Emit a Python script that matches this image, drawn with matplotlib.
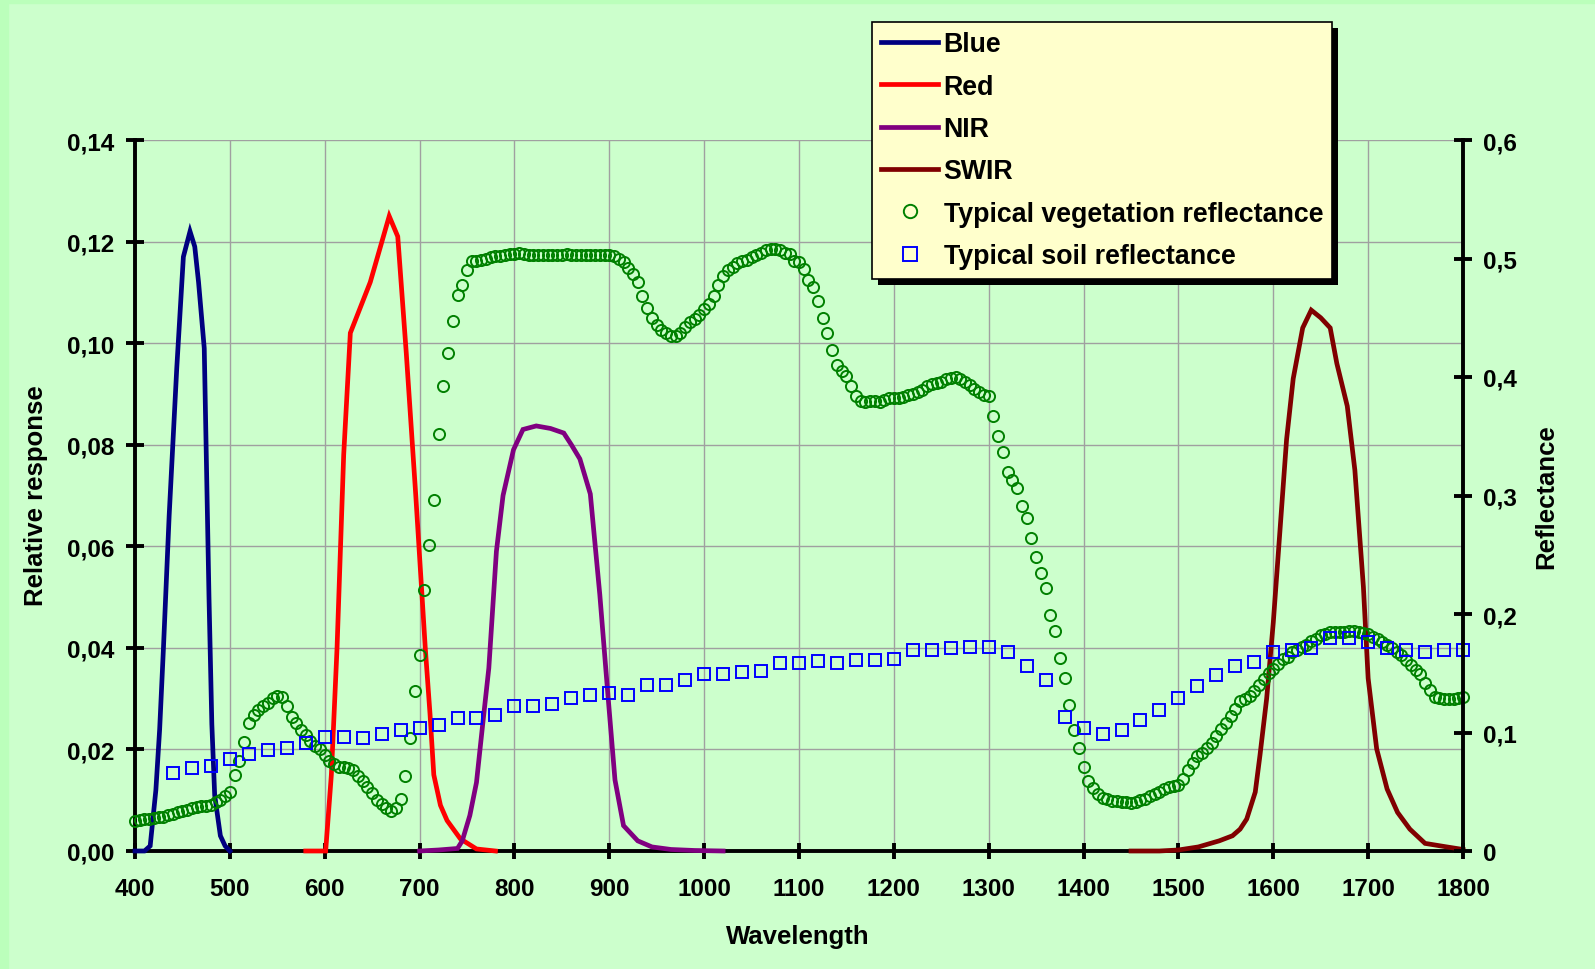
import numpy as np
import matplotlib
matplotlib.use('Agg')
import matplotlib.pyplot as plt
from matplotlib.patches import Rectangle
from matplotlib.lines import Line2D

plt.rcParams['font.family'] = ['Liberation Sans', 'DejaVu Sans']
plt.rcParams['font.weight'] = 'bold'

# ---------------- data ----------------
blue_wl = [400, 410, 416, 422, 426, 430, 436, 444, 451, 458, 463, 467, 473, 478, 481, 484, 490, 495, 500]
blue_v = [0, 0, 0.001, 0.012, 0.024, 0.040, 0.066, 0.095, 0.117, 0.122, 0.119, 0.112, 0.099, 0.050,
          0.025, 0.011, 0.003, 0.001, 0]

red_wl = [580, 601, 607, 613, 620, 627, 648, 668, 677, 686, 696, 706, 711, 715, 722, 729, 743, 760, 780]
red_v = [0, 0, 0.015, 0.040, 0.078, 0.102, 0.112, 0.125, 0.121, 0.098, 0.070, 0.040, 0.027, 0.015,
         0.009, 0.006, 0.0024, 0.0004, 0]

nir_wl = [700, 720, 740, 745, 753, 760, 766, 773, 781, 788, 799, 809, 823, 838, 852, 860, 869, 880,
          890, 898, 906, 915, 930, 945, 965, 990, 1020]
nir_v = [0, 0.0002, 0.0005, 0.002, 0.007, 0.0135, 0.024, 0.036, 0.059, 0.070, 0.079, 0.083, 0.0837,
         0.0832, 0.0823, 0.080, 0.0772, 0.0703, 0.0505, 0.032, 0.014, 0.005, 0.002, 0.0008, 0.0003,
         0.0001, 0]

swir_wl = [1450, 1480, 1500, 1521, 1543, 1557, 1565, 1572, 1581, 1586, 1593, 1600, 1607, 1614, 1621,
           1631, 1640, 1650, 1660, 1667, 1678, 1686, 1695, 1700, 1709, 1720, 1731, 1744, 1760, 1783, 1800]
swir_v = [0, 0, 0.0002, 0.0008, 0.002, 0.003, 0.0043, 0.0063, 0.0116, 0.0189, 0.030, 0.045, 0.063,
          0.081, 0.093, 0.103, 0.1065, 0.105, 0.103, 0.096, 0.0876, 0.075, 0.052, 0.034, 0.0201,
          0.0122, 0.0076, 0.0043, 0.0015, 0.0008, 0.0003]

veg_wl = list(range(400, 1805, 5))
veg_r = [
    0.025, 0.026, 0.027, 0.027, 0.028, 0.029, 0.029, 0.030, 0.031, 0.033, 0.034, 0.035, 0.036, 0.037, 0.038, 0.038, 0.039, 0.041, 0.043, 0.046,
    0.050, 0.064, 0.076, 0.092, 0.108, 0.115, 0.119, 0.122, 0.125, 0.129, 0.131, 0.130, 0.122, 0.113, 0.108, 0.102, 0.098, 0.093, 0.089, 0.086,
    0.081, 0.076, 0.073, 0.071, 0.071, 0.070, 0.068, 0.063, 0.059, 0.054, 0.049, 0.043, 0.040, 0.036, 0.034, 0.036, 0.044, 0.063, 0.095, 0.135,
    0.165, 0.220, 0.258, 0.296, 0.352, 0.392, 0.420, 0.447, 0.469, 0.478, 0.490, 0.498, 0.498, 0.499, 0.500, 0.501, 0.502, 0.502, 0.503, 0.504,
    0.504, 0.505, 0.504, 0.503, 0.503, 0.503, 0.503, 0.503, 0.503, 0.503, 0.503, 0.504, 0.503, 0.503, 0.503, 0.503, 0.503, 0.503, 0.503, 0.503,
    0.503, 0.502, 0.500, 0.497, 0.492, 0.487, 0.480, 0.468, 0.458, 0.450, 0.444, 0.440, 0.437, 0.435, 0.435, 0.437, 0.442, 0.446, 0.449, 0.452,
    0.457, 0.462, 0.468, 0.478, 0.485, 0.490, 0.493, 0.496, 0.498, 0.499, 0.501, 0.503, 0.505, 0.507, 0.508, 0.508, 0.507, 0.505, 0.504, 0.498,
    0.497, 0.491, 0.482, 0.476, 0.464, 0.450, 0.437, 0.423, 0.410, 0.405, 0.401, 0.392, 0.384, 0.380, 0.379, 0.380, 0.380, 0.379, 0.381, 0.382,
    0.382, 0.382, 0.383, 0.385, 0.386, 0.387, 0.389, 0.392, 0.394, 0.395, 0.396, 0.398, 0.399, 0.400, 0.398, 0.396, 0.393, 0.390, 0.387, 0.385,
    0.384, 0.367, 0.350, 0.337, 0.320, 0.313, 0.306, 0.291, 0.281, 0.264, 0.248, 0.235, 0.222, 0.199, 0.186, 0.163, 0.146, 0.123, 0.102, 0.087,
    0.071, 0.059, 0.053, 0.048, 0.045, 0.044, 0.0425, 0.042, 0.041, 0.041, 0.0405, 0.041, 0.043, 0.044, 0.046, 0.048, 0.050, 0.052, 0.054, 0.055,
    0.056, 0.061, 0.068, 0.074, 0.080, 0.083, 0.087, 0.091, 0.097, 0.103, 0.108, 0.114, 0.120, 0.127, 0.128, 0.131, 0.135, 0.140, 0.145, 0.150,
    0.154, 0.158, 0.162, 0.164, 0.168, 0.170, 0.172, 0.174, 0.177, 0.179, 0.182, 0.183, 0.185, 0.185, 0.185, 0.185, 0.186, 0.186, 0.185, 0.184,
    0.183, 0.181, 0.179, 0.176, 0.174, 0.171, 0.168, 0.165, 0.161, 0.157, 0.153, 0.149, 0.142, 0.136, 0.130, 0.129, 0.128, 0.128, 0.128, 0.129,
    0.130,
]

soil_wl = list(range(440, 1801, 20))
soil_r = [
    0.066, 0.070, 0.0715, 0.078, 0.082, 0.0855, 0.087, 0.091, 0.096, 0.096, 0.095, 0.0987, 0.102, 0.104,
    0.106, 0.112, 0.112, 0.115, 0.122, 0.122, 0.124, 0.129, 0.132, 0.133, 0.132, 0.140, 0.140, 0.144,
    0.149, 0.149, 0.151, 0.152, 0.159, 0.159, 0.160, 0.159, 0.161, 0.161, 0.162, 0.1696, 0.1696, 0.171,
    0.1724, 0.1724, 0.168, 0.156, 0.1443, 0.1128, 0.1038, 0.0987, 0.102, 0.1105, 0.119, 0.1289, 0.139,
    0.1488, 0.156, 0.1597, 0.168, 0.1696, 0.1713, 0.1797, 0.1795, 0.176, 0.171, 0.1696, 0.1677, 0.1699,
    0.1696,
]

x_ticks = list(range(400, 1801, 100))
y_ticks = [0.00, 0.02, 0.04, 0.06, 0.08, 0.10, 0.12, 0.14]
y_labels = ['0,00', '0,02', '0,04', '0,06', '0,08', '0,10', '0,12', '0,14']
y2_ticks = [0.0, 0.1, 0.2, 0.3, 0.4, 0.5, 0.6]
y2_labels = ['0', '0,1', '0,2', '0,3', '0,4', '0,5', '0,6']

band_names = ['Blue', 'Red', 'NIR', 'SWIR']
band_colors = ['#000080', '#FF0000', '#800080', '#800000']
veg_label = 'Typical vegetation reflectance'
soil_label = 'Typical soil reflectance'

# ---------------- figure ----------------
W, H = 1595, 970
BG = '#CCFFCC'
fig = plt.figure(figsize=(W / 100, H / 100), dpi=100, facecolor=BG)

# lighter border strips (top/left)
fig.patches.append(Rectangle((0, 0), 8 / W, 1, transform=fig.transFigure, color='#BBFFBB', zorder=0))
fig.patches.append(Rectangle((0, 1 - 4 / H), 1, 4 / H, transform=fig.transFigure, color='#BBFFBB', zorder=0))

L, R, T, B = 135, 1463, 141, 852
ax = fig.add_axes([L / W, 1 - B / H, (R - L) / W, (B - T) / H])
ax.set_facecolor('none')
ax2 = ax.twinx()
ax2.set_facecolor('none')

lw = 3.4
series = [(blue_wl, blue_v), (red_wl, red_v), (nir_wl, nir_v), (swir_wl, swir_v)]
handles = []
for (wl, v), name, col in zip(series, band_names, band_colors):
    h, = ax.plot(wl, v, color=col, lw=lw, solid_joinstyle='miter', clip_on=False, zorder=3, label=name)
    handles.append(h)

hv, = ax2.plot(veg_wl, veg_r, 'o', mfc='none', mec='#008000', ms=8, mew=1.4, clip_on=False, label=veg_label)
hs, = ax2.plot(soil_wl, soil_r, 's', mfc='none', mec='#0000FF', ms=8.3, mew=1.4, clip_on=False, label=soil_label)
handles += [hv, hs]

ax.set_xlim(400, 1800)
ax.set_ylim(0, 0.14)
ax2.set_ylim(0, 0.6)

ax.set_xticks(x_ticks)
ax.set_xticklabels([str(t) for t in x_ticks])
ax.set_yticks(y_ticks)
ax.set_yticklabels(y_labels)
ax2.set_yticks(y2_ticks)
ax2.set_yticklabels(y2_labels)

ax.grid(True, color='#A0A0A0', lw=1.0)
ax.set_axisbelow(True)

for s in ['top', 'right']:
    ax.spines[s].set_visible(False)
for s in ['top', 'left', 'bottom']:
    ax2.spines[s].set_visible(False)
for s in ['left', 'bottom']:
    ax.spines[s].set_linewidth(2.8)
ax2.spines['right'].set_linewidth(2.8)

tick_font = 17.5
ax.tick_params(axis='y', direction='inout', length=13, width=2.8, pad=8.5, labelsize=tick_font)
ax.tick_params(axis='x', direction='inout', length=11, width=2.8, pad=13, labelsize=tick_font)
ax2.tick_params(axis='y', direction='inout', length=13.5, width=2.8, pad=7.5, labelsize=tick_font)
for lab in ax.get_xticklabels() + ax.get_yticklabels() + ax2.get_yticklabels():
    lab.set_fontweight('bold')

lab_font = 18.5
fig.text(36 / W, 1 - 496 / H, 'Relative response', rotation=90, ha='center', va='center',
         fontsize=lab_font, fontweight='bold')
fig.text(1546 / W, 1 - 497 / H, 'Reflectance', rotation=90, ha='center', va='center',
         fontsize=lab_font, fontweight='bold')
fig.text(798 / W, 1 - 937 / H, 'Wavelength', ha='center', va='center',
         fontsize=lab_font, fontweight='bold')

leg_font = 19.3
leg = fig.legend(handles, band_names + [veg_label, soil_label], loc='upper left',
                 bbox_to_anchor=(872 / W, 1 - 23 / H), borderaxespad=0, frameon=True,
                 fancybox=False, edgecolor='black', facecolor='#FFFFCC', framealpha=1,
                 fontsize=leg_font, handlelength=2.1, handletextpad=0.22, labelspacing=0.61,
                 borderpad=0.35, numpoints=1, markerscale=1.2)
leg.get_frame().set_linewidth(1.2)
leg.set_zorder(10)

fig.canvas.draw()
bb = leg.get_window_extent()
off = 6
shadow = Rectangle(((bb.x0 + off) / W, (bb.y0 - off) / H), bb.width / W, bb.height / H,
                   transform=fig.transFigure, facecolor='black', edgecolor='none', zorder=9)
fig.patches.append(shadow)

fig.savefig('out.png', dpi=100, facecolor=BG)
